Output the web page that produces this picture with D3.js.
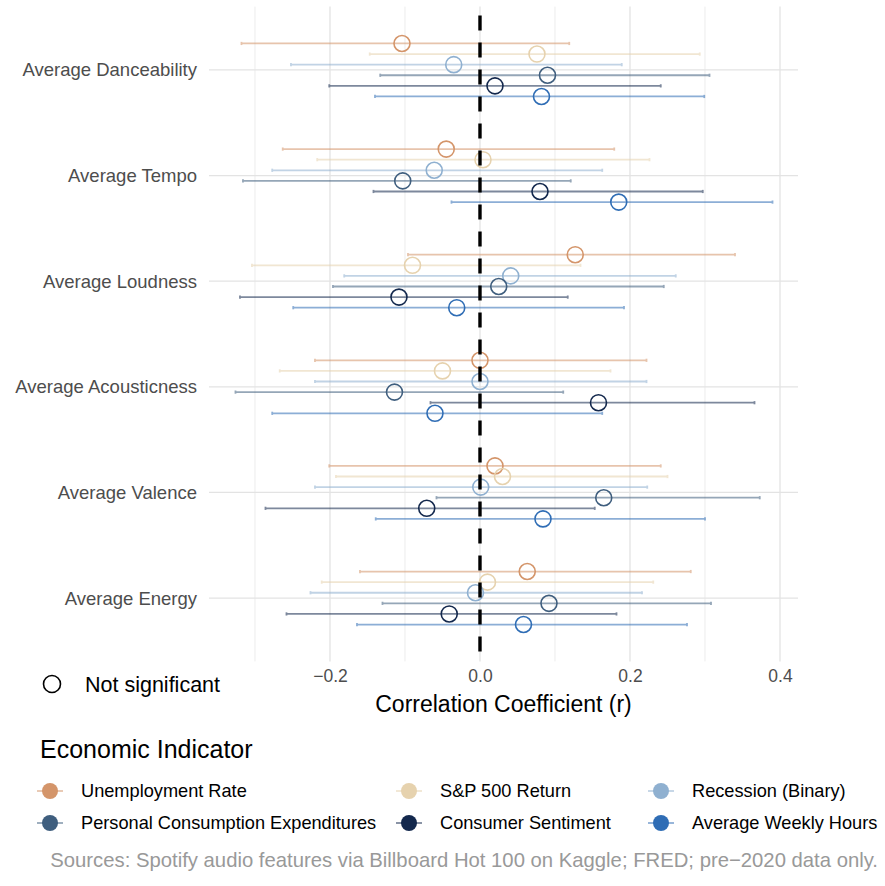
<!DOCTYPE html>
<html>
<head>
<meta charset="utf-8">
<script src="https://cdn.jsdelivr.net/npm/d3@7"></script>
<style>
  html, body { margin: 0; padding: 0; background: #fff; }
  svg { display: block; font-family: "Liberation Sans", Arial, Helvetica, sans-serif; }
</style>
</head>
<body>
<svg id="chart" width="885" height="886"></svg>
<script>
// ---- Data ----
const features = ["Average Danceability", "Average Tempo", "Average Loudness",
                  "Average Acousticness", "Average Valence", "Average Energy"];
const indicators = ["Unemployment Rate", "S&P 500 Return", "Recession (Binary)",
                    "Personal Consumption Expenditures", "Consumer Sentiment", "Average Weekly Hours"];
const indicatorColors = ["#d4956a", "#e6d2ae", "#8fb0d0", "#3f5e7e", "#13284d", "#2f6db5"];

// correlation estimates, rows = features, cols = indicators
const rValues = [
  [-0.104, 0.076, -0.035, 0.090, 0.020, 0.082],
  [-0.045, 0.004, -0.061, -0.103, 0.080, 0.185],
  [0.127, -0.090, 0.041, 0.025, -0.108, -0.031],
  [0.000, -0.050, 0.000, -0.114, 0.158, -0.060],
  [0.020, 0.030, 0.001, 0.165, -0.071, 0.084],
  [0.063, 0.010, -0.006, 0.092, -0.041, 0.058]
];
const ciLow = [
  [-0.318, -0.147, -0.252, -0.133, -0.201, -0.140],
  [-0.263, -0.217, -0.277, -0.316, -0.142, -0.038],
  [-0.096, -0.304, -0.181, -0.196, -0.320, -0.249],
  [-0.220, -0.267, -0.220, -0.326, -0.066, -0.277],
  [-0.201, -0.192, -0.220, -0.058, -0.286, -0.139],
  [-0.160, -0.211, -0.226, -0.130, -0.258, -0.164]
];
const ciHigh = [
  [0.119, 0.293, 0.189, 0.306, 0.241, 0.299],
  [0.179, 0.226, 0.163, 0.121, 0.297, 0.390],
  [0.340, 0.134, 0.261, 0.245, 0.117, 0.192],
  [0.222, 0.174, 0.222, 0.111, 0.366, 0.163],
  [0.241, 0.250, 0.223, 0.373, 0.153, 0.300],
  [0.281, 0.231, 0.216, 0.308, 0.182, 0.276]
];
const significant = [
  [false,false,false,false,false,false],
  [false,false,false,false,false,false],
  [false,false,false,false,false,false],
  [false,false,false,false,false,false],
  [false,false,false,false,false,false],
  [false,false,false,false,false,false]
];
const xTicks = [-0.2, 0.0, 0.2, 0.4];
const xMinor = [-0.3, -0.1, 0.1, 0.3];

// ---- Layout ----
const svg = d3.select("#chart");
const panel = { left: 209, right: 798, top: 6.6, bottom: 661.4 };

const x = d3.scaleLinear().domain([-0.3613, 0.424]).range([panel.left, panel.right]);
const y = d3.scalePoint().domain(features).range([panel.top, panel.bottom]).padding(0.6);
const yInner = d3.scalePoint().domain(indicators).range([-26.5, 26.5]);
const color = d3.scaleOrdinal().domain(indicators).range(indicatorColors);

const rows = [];
features.forEach((f, i) => indicators.forEach((ind, j) => {
  rows.push({ feature: f, indicator: ind, r: rValues[i][j], lo: ciLow[i][j], hi: ciHigh[i][j], sig: significant[i][j] });
}));

// grid
const g = svg.append("g");
g.selectAll("line.minor").data(xMinor).enter().append("line")
  .attr("x1", d => x(d)).attr("x2", d => x(d))
  .attr("y1", panel.top).attr("y2", panel.bottom)
  .attr("stroke", "#ececec").attr("stroke-width", 1);
g.selectAll("line.major").data(xTicks).enter().append("line")
  .attr("x1", d => x(d)).attr("x2", d => x(d))
  .attr("y1", panel.top).attr("y2", panel.bottom)
  .attr("stroke", "#e3e3e3").attr("stroke-width", 1.3);
g.selectAll("line.hgrid").data(features).enter().append("line")
  .attr("x1", panel.left).attr("x2", panel.right)
  .attr("y1", d => y(d)).attr("y2", d => y(d))
  .attr("stroke", "#e3e3e3").attr("stroke-width", 1.3);

// error bars
const eb = svg.append("g").selectAll("g").data(rows).enter().append("g")
  .attr("stroke", d => color(d.indicator)).attr("opacity", 0.55);
eb.append("line")
  .attr("x1", d => x(d.lo)).attr("x2", d => x(d.hi))
  .attr("y1", d => y(d.feature) + yInner(d.indicator))
  .attr("y2", d => y(d.feature) + yInner(d.indicator))
  .attr("stroke-width", 1.8);
eb.append("line")
  .attr("x1", d => x(d.lo)).attr("x2", d => x(d.lo))
  .attr("y1", d => y(d.feature) + yInner(d.indicator) - 1.6)
  .attr("y2", d => y(d.feature) + yInner(d.indicator) + 1.6)
  .attr("stroke-width", 1.8);
eb.append("line")
  .attr("x1", d => x(d.hi)).attr("x2", d => x(d.hi))
  .attr("y1", d => y(d.feature) + yInner(d.indicator) - 1.6)
  .attr("y2", d => y(d.feature) + yInner(d.indicator) + 1.6)
  .attr("stroke-width", 1.8);

// points
svg.append("g").selectAll("circle").data(rows).enter().append("circle")
  .attr("cx", d => x(d.r))
  .attr("cy", d => y(d.feature) + yInner(d.indicator))
  .attr("r", 8)
  .attr("fill", d => d.sig ? color(d.indicator) : "none")
  .attr("stroke", d => color(d.indicator))
  .attr("stroke-width", 1.6);

// zero line
svg.append("line")
  .attr("x1", x(0)).attr("x2", x(0))
  .attr("y1", panel.top + 9).attr("y2", panel.bottom)
  .attr("stroke", "#000").attr("stroke-width", 3.4)
  .attr("stroke-dasharray", "15,12");

// y axis labels
svg.append("g").selectAll("text").data(features).enter().append("text")
  .attr("x", 197).attr("y", d => y(d))
  .attr("dy", "0.35em").attr("text-anchor", "end")
  .attr("font-size", 18.5).attr("fill", "#4d4d4d")
  .text(d => d);

// x axis tick labels
const xAxis = d3.axisBottom(x).tickValues(xTicks).tickSize(0).tickPadding(0)
  .tickFormat(d => d3.format(".1f")(d).replace("-", "\u2212"));
const xa = svg.append("g").attr("transform", `translate(0, ${panel.bottom + 8})`).call(xAxis);
xa.select(".domain").remove();
xa.selectAll("text").attr("font-size", 17.5).attr("fill", "#4d4d4d")
  .attr("font-family", "Liberation Sans, Arial, sans-serif");

svg.append("text").attr("x", (panel.left + panel.right) / 2).attr("y", 712)
  .attr("text-anchor", "middle").attr("font-size", 23).attr("fill", "#000")
  .text("Correlation Coefficient (r)");

// significance legend
svg.append("circle").attr("cx", 52).attr("cy", 684).attr("r", 8.5)
  .attr("fill", "none").attr("stroke", "#000").attr("stroke-width", 1.6);
svg.append("text").attr("x", 85).attr("y", 684).attr("dy", "0.35em")
  .attr("font-size", 21.5).attr("fill", "#000").text("Not significant");

// color legend
svg.append("text").attr("x", 40).attr("y", 758)
  .attr("font-size", 25).attr("fill", "#000").text("Economic Indicator");
const colX = [50, 409, 661];
const rowY = [791, 823];
const leg = svg.append("g").selectAll("g").data(indicators).enter().append("g")
  .attr("transform", (d, i) => `translate(${colX[i % 3]}, ${rowY[Math.floor(i / 3)]})`);
leg.append("line").attr("x1", -13).attr("x2", 13).attr("y1", 0).attr("y2", 0)
  .attr("stroke", d => color(d)).attr("stroke-width", 1.8).attr("opacity", 0.55);
leg.append("circle").attr("r", 8).attr("fill", d => color(d));
leg.append("text").attr("x", 31).attr("dy", "0.35em")
  .attr("font-size", 18.2).attr("fill", "#000").text(d => d);

// caption
svg.append("text").attr("x", 878).attr("y", 867).attr("text-anchor", "end")
  .attr("font-size", 20.3).attr("fill", "#999999")
  .text("Sources: Spotify audio features via Billboard Hot 100 on Kaggle; FRED; pre\u22122020 data only.");
</script>
</body>
</html>
